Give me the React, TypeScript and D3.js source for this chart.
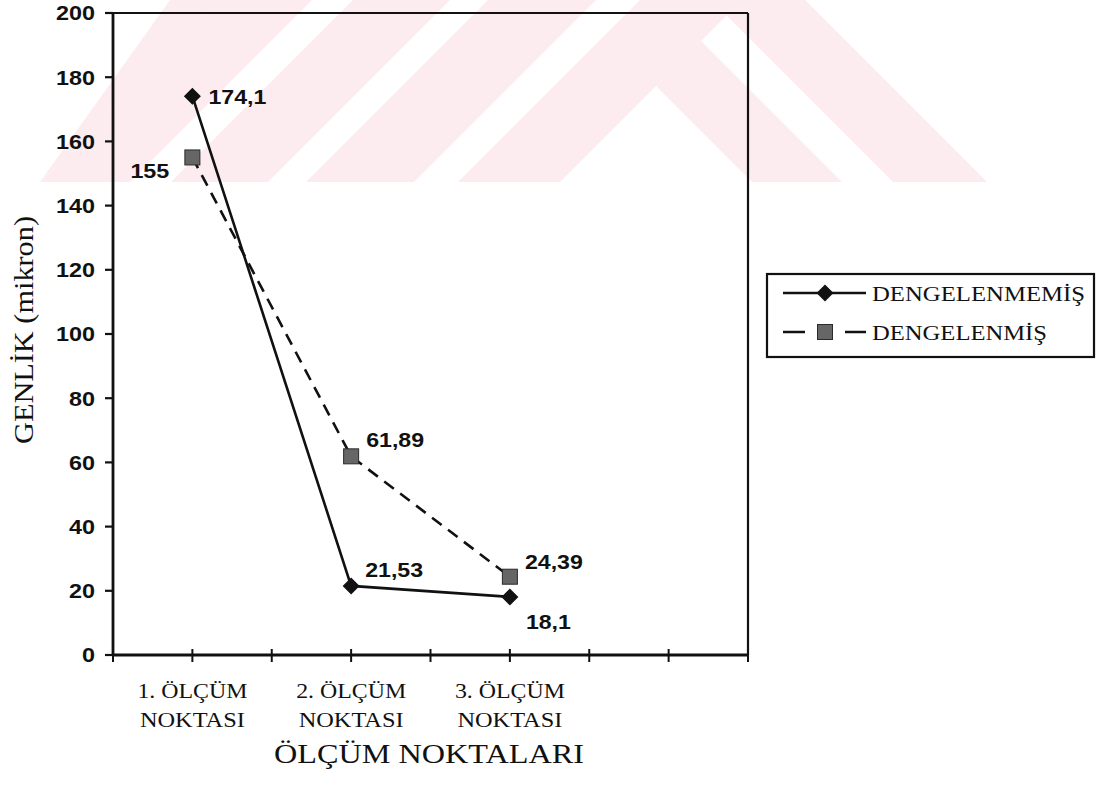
import React from "react";
import * as d3 from "d3";

// ---- data ----
const categories = ["1. ÖLÇÜM|NOKTASI", "2. ÖLÇÜM|NOKTASI", "3. ÖLÇÜM|NOKTASI"];
const categoryPos = [1, 3, 5];
const seriesNames = ["DENGELENMEMİŞ", "DENGELENMİŞ"];
const dengelenmemis = [174.1, 21.53, 18.1];
const dengelenmis = [155, 61.89, 24.39];
const labelsDengelenmemis = ["174,1", "21,53", "18,1"];
const labelsDengelenmis = ["155", "61,89", "24,39"];
const yTicks = [0, 20, 40, 60, 80, 100, 120, 140, 160, 180, 200];
const xTicks = [0, 1, 2, 3, 4, 5, 6, 7, 8];

const W = 1105;
const H = 791;
const M = { left: 113, right: 748, top: 13, bottom: 655 };

const SANS = "'Liberation Sans', Arial, sans-serif";
const SERIF = "'Liberation Serif', 'Times New Roman', serif";
const PINK = "#fdecef";

// label offsets (style, per point): [dx, dy, anchor]
const offA: [number, number, string][] = [[16, 8, "start"], [14, -9, "start"], [16, 32, "start"]];
const offB: [number, number, string][] = [[-23, 21, "end"], [15, -9, "start"], [15, -8, "start"]];

// stretched numeric text width (scan glyphs are wider than Arial)
const numLen = (s: string) =>
  s.split("").reduce((a, c) => a + (c === "," ? 6 : 13), 0);

function band(a: number, b: number) {
  // "/" band: u = x + y - 182 in [a,b]
  return [[a, 182], [b, 182], [b + 182, 0], [a + 182, 0]];
}

export default function App() {
  const x = d3.scaleLinear().domain([0, 8]).range([M.left, M.right]);
  const y = d3.scaleLinear().domain([0, 200]).range([M.bottom, M.top]);

  const lineGen = d3
    .line<number>()
    .x((_, i) => x(categoryPos[i]))
    .y((d) => y(d));

  const wm: number[][][] = [
    band(40, 130),
    [[40, 182], [170, 0], [222, 0]],
    band(171, 268),
    band(306, 414),
    band(458, 560),
    [[656, 86], [701, 41], [842, 182], [752, 182]],
    [[711, 0], [805, 0], [987, 182], [893, 182]],
  ];

  const diamond = (cx: number, cy: number, r: number) =>
    `M${cx},${cy - r}L${cx + r},${cy}L${cx},${cy + r}L${cx - r},${cy}Z`;

  return (
    <svg
      width={W}
      height={H}
      style={{ position: "absolute", left: 0, top: 0, display: "block", background: "#fff" }}
    >
      <defs>
        <clipPath id="wmclip">
          <rect x={0} y={0} width={W} height={182} />
        </clipPath>
      </defs>
      <g clipPath="url(#wmclip)">
        {wm.map((p, i) => (
          <polygon key={i} points={p.map((q) => q.join(",")).join(" ")} fill={PINK} />
        ))}
      </g>

      {/* frame */}
      <line x1={M.left} x2={M.right} y1={M.top} y2={M.top} stroke="#111" strokeWidth={2.2} />
      <line x1={M.right} x2={M.right} y1={M.top} y2={M.bottom} stroke="#111" strokeWidth={2.2} />
      {/* y axis */}
      <line x1={M.left} x2={M.left} y1={M.top - 1} y2={M.bottom + 1} stroke="#111" strokeWidth={2.8} />
      {yTicks.map((t) => (
        <g key={t}>
          <line x1={M.left - 8} x2={M.left} y1={y(t)} y2={y(t)} stroke="#111" strokeWidth={2.2} />
          <text
            x={95}
            y={y(t)}
            dy="0.36em"
            textAnchor="end"
            fontFamily={SANS}
            fontWeight="bold"
            fontSize={20.5}
            fill="#111"
            textLength={numLen(String(t))}
            lengthAdjust="spacingAndGlyphs"
          >
            {t}
          </text>
        </g>
      ))}
      {/* x axis */}
      <line x1={M.left} x2={M.right} y1={M.bottom} y2={M.bottom} stroke="#111" strokeWidth={2.8} />
      {xTicks.map((t) => (
        <line key={t} x1={x(t)} x2={x(t)} y1={M.bottom - 6} y2={M.bottom + 7} stroke="#111" strokeWidth={2} />
      ))}
      {categories.map((c, i) => {
        const [l1, l2] = c.split("|");
        return (
          <g key={c}>
            <text
              x={x(categoryPos[i])}
              y={698}
              textAnchor="middle"
              fontFamily={SERIF}
              fontSize={22}
              fill="#111"
              textLength={110}
              lengthAdjust="spacingAndGlyphs"
            >
              {l1}
            </text>
            <text
              x={x(categoryPos[i])}
              y={727}
              textAnchor="middle"
              fontFamily={SERIF}
              fontSize={22}
              fill="#111"
              textLength={105}
              lengthAdjust="spacingAndGlyphs"
            >
              {l2}
            </text>
          </g>
        );
      })}

      {/* axis titles */}
      <text
        x={429}
        y={763}
        textAnchor="middle"
        fontFamily={SERIF}
        fontSize={28}
        fill="#111"
        textLength={310}
        lengthAdjust="spacingAndGlyphs"
      >
        ÖLÇÜM NOKTALARI
      </text>
      <text
        transform={`translate(33,330) rotate(-90)`}
        textAnchor="middle"
        fontFamily={SERIF}
        fontSize={27}
        fill="#111"
        textLength={228}
        lengthAdjust="spacingAndGlyphs"
      >
        GENLİK (mikron)
      </text>

      {/* series */}
      <path d={lineGen(dengelenmis) || ""} fill="none" stroke="#111" strokeWidth={2.6} strokeDasharray="12,8" />
      <path d={lineGen(dengelenmemis) || ""} fill="none" stroke="#111" strokeWidth={2.6} />
      {dengelenmis.map((v, i) => (
        <rect
          key={"s" + i}
          x={x(categoryPos[i]) - 7.5}
          y={y(v) - 7.5}
          width={15}
          height={15}
          fill="#666"
          stroke="#2a2a2a"
          strokeWidth={1}
        />
      ))}
      {dengelenmemis.map((v, i) => (
        <path key={"d" + i} d={diamond(x(categoryPos[i]), y(v), 8.5)} fill="#111" />
      ))}
      {dengelenmemis.map((v, i) => (
        <text
          key={"la" + i}
          x={x(categoryPos[i]) + offA[i][0]}
          y={y(v) + offA[i][1]}
          textAnchor={offA[i][2] as any}
          fontFamily={SANS}
          fontWeight="bold"
          fontSize={20.5}
          fill="#111"
          textLength={numLen(labelsDengelenmemis[i])}
          lengthAdjust="spacingAndGlyphs"
        >
          {labelsDengelenmemis[i]}
        </text>
      ))}
      {dengelenmis.map((v, i) => (
        <text
          key={"lb" + i}
          x={x(categoryPos[i]) + offB[i][0]}
          y={y(v) + offB[i][1]}
          textAnchor={offB[i][2] as any}
          fontFamily={SANS}
          fontWeight="bold"
          fontSize={20.5}
          fill="#111"
          textLength={numLen(labelsDengelenmis[i])}
          lengthAdjust="spacingAndGlyphs"
        >
          {labelsDengelenmis[i]}
        </text>
      ))}

      {/* legend */}
      <rect x={767} y={274} width={327} height={83} fill="#fff" stroke="#111" strokeWidth={2.2} />
      <line x1={783} x2={866} y1={293} y2={293} stroke="#111" strokeWidth={2.4} />
      <path d={diamond(825, 293, 8.5)} fill="#111" />
      <text
        x={872}
        y={301}
        fontFamily={SERIF}
        fontSize={22}
        fill="#111"
        textLength={213}
        lengthAdjust="spacingAndGlyphs"
      >
        {seriesNames[0]}
      </text>
      <line x1={783} x2={866} y1={332} y2={332} stroke="#111" strokeWidth={2.4} strokeDasharray="22,40" />
      <rect x={817.5} y={324.5} width={15} height={15} fill="#666" stroke="#2a2a2a" strokeWidth={1} />
      <text
        x={872}
        y={340}
        fontFamily={SERIF}
        fontSize={22}
        fill="#111"
        textLength={175}
        lengthAdjust="spacingAndGlyphs"
      >
        {seriesNames[1]}
      </text>
    </svg>
  );
}
